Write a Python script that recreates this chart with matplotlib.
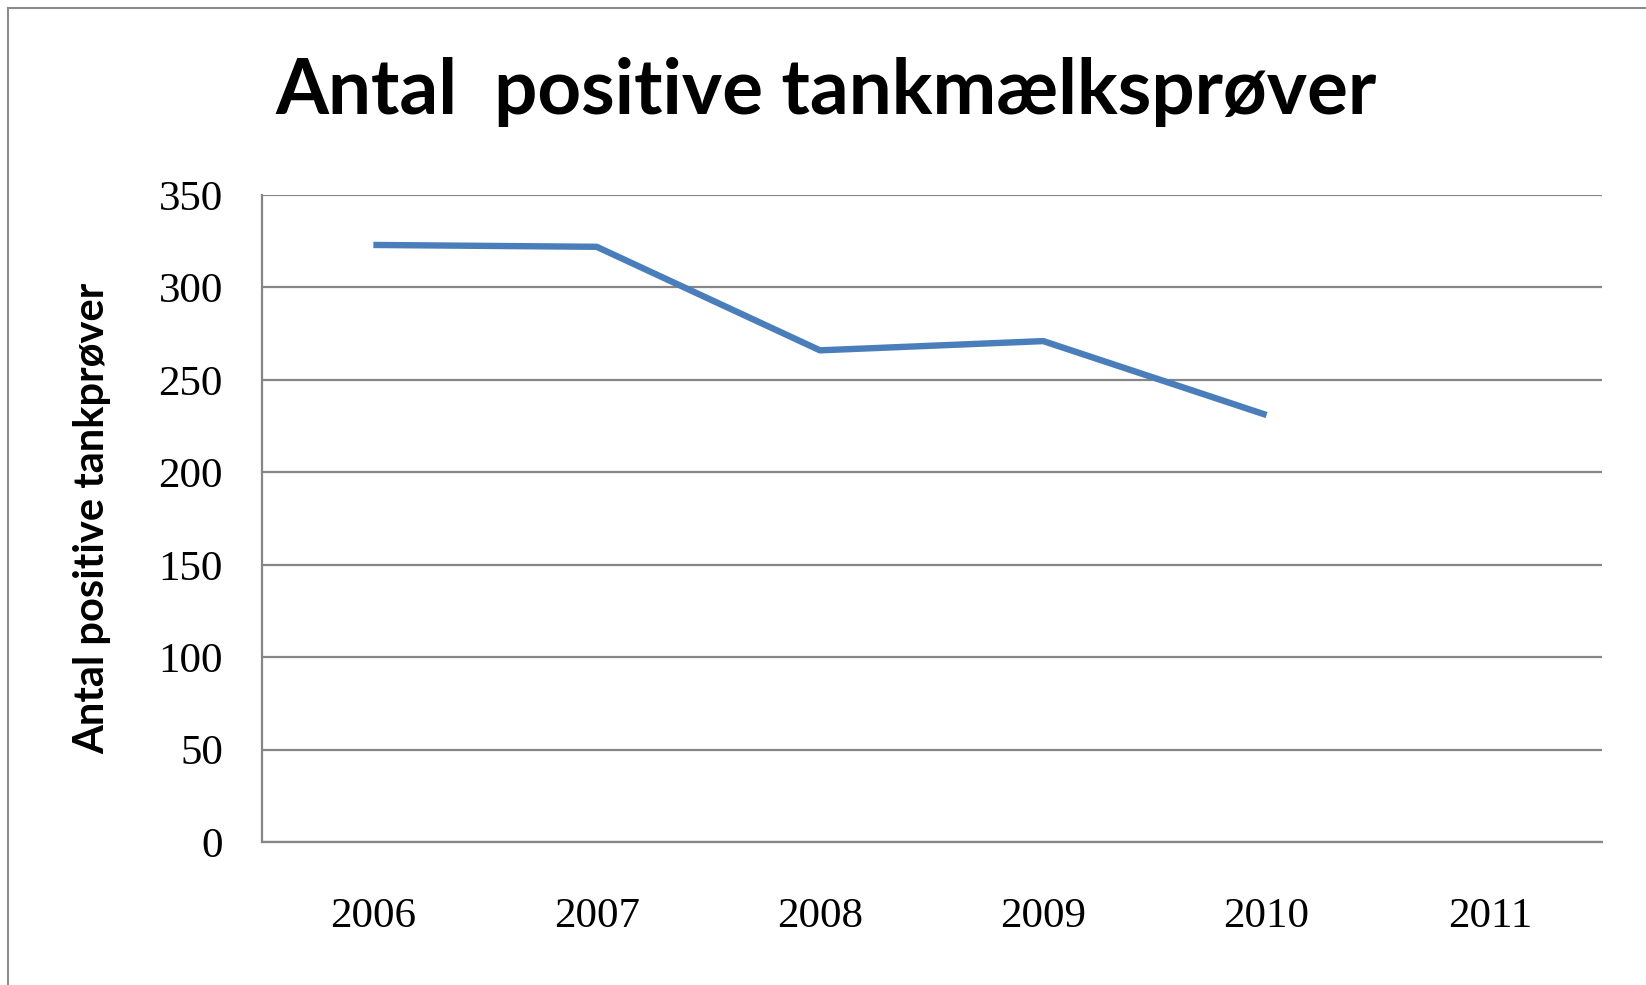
import matplotlib.pyplot as plt
import numpy as np
from matplotlib.lines import Line2D

years = ["2006", "2007", "2008", "2009", "2010", "2011"]
positive = [323, 322, 266, 271, 231]
y_ticks = [0, 50, 100, 150, 200, 250, 300, 350]

fig = plt.figure(figsize=(16.46, 9.85), dpi=100)
ax = fig.add_axes([0.159, 0.145, 0.814, 0.657])

x = np.arange(len(years))
ax.plot(x[: len(positive)], positive, color="#4a7ebb", linewidth=4.6, solid_capstyle="butt", zorder=3)

ax.set_xlim(-0.5, len(years) - 0.5)
ax.set_ylim(0, 350)
ax.set_yticks(y_ticks)
ax.set_xticks(x)
ax.set_xticklabels(years)
ax.yaxis.grid(True, color="#868686", linewidth=1.6)
ax.set_axisbelow(True)
for side in ("top", "right"):
    ax.spines[side].set_visible(False)
for side in ("left", "bottom"):
    ax.spines[side].set_color("#868686")
    ax.spines[side].set_linewidth(1.6)
ax.tick_params(length=0, labelsize=31)
ax.tick_params(axis="y", pad=28)
ax.tick_params(axis="x", pad=40)
for lab in ax.get_xticklabels() + ax.get_yticklabels():
    lab.set_family("Liberation Serif")

fig.text(0.056, 0.474, "Antal positive tankprøver", rotation=90, ha="center", va="center",
         fontsize=30, fontweight="bold", family="Lato")
fig.text(0.502, 0.884, "Antal  positive tankmælksprøver", ha="center", va="baseline",
         fontsize=55, fontweight="bold", family="Lato")

# outer chart frame
fig.add_artist(Line2D([0.005, 0.005], [0.0, 0.992], color="#8c8c8c", linewidth=1.5))
fig.add_artist(Line2D([0.005, 1.0], [0.992, 0.992], color="#8c8c8c", linewidth=1.5))

fig.savefig("out.png", dpi=100)
